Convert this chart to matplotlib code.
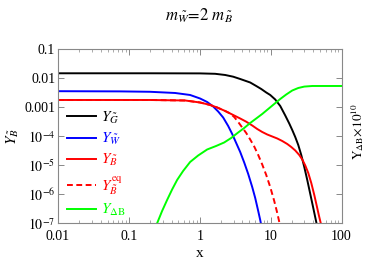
import matplotlib
matplotlib.use('Agg')
from matplotlib import pyplot as plt
from matplotlib.ticker import FixedLocator, FixedFormatter, LogLocator, NullFormatter

plt.rcParams['font.family'] = ['Liberation Serif', 'DejaVu Serif']
plt.rcParams['mathtext.fontset'] = 'stix'

# values (log-log)
x_G = [0.01, 0.199, 1.01, 1.65, 2.285, 2.964, 3.72, 5.15, 6.26, 7.37, 8.67,
       9.87, 11.61, 13.67, 16.08, 18.31, 20.19, 22.26, 24.54, 27.05, 29.83,
       32.87, 36.25, 39.96, 42.65, 45.53, 48.58]
y_G = [0.01509, 0.01509, 0.01496, 0.01449, 0.01318, 0.01151, 0.00959,
       0.00726, 0.00550, 0.00433, 0.00328, 0.00269, 0.00188, 0.00112,
       0.000527, 0.000279, 0.000166, 9.5e-5, 5.05e-5, 2.28e-5, 8.8e-6,
       3.13e-6, 1.03e-6, 3.38e-7, 1.59e-7, 7.5e-8, 3.1e-8]

x_W = [0.01, 0.0751, 0.199, 0.4494, 0.7318, 1.01, 1.272, 1.546, 1.819,
       2.140, 2.518, 2.869, 3.267, 3.72, 4.238, 4.827, 5.497, 6.060, 6.681,
       7.130, 7.609]
y_W = [0.003636, 0.003579, 0.003467, 0.003151, 0.002688, 0.002035, 0.001541,
       0.001077, 0.000724, 0.000449, 0.000229, 0.0001211, 5.92e-5, 2.90e-5,
       1.257e-5, 5.04e-6, 1.79e-6, 7.48e-7, 2.66e-7, 1.30e-7, 5.88e-8]

x_B = [0.01, 0.199, 0.622, 1.01, 1.403, 1.761, 2.285, 2.964, 3.72, 4.523,
       5.497, 6.467, 7.609, 8.954, 10.53, 12.40, 14.58, 17.16, 19.54, 22.26,
       25.35, 27.95, 30.81, 33.97, 37.45, 41.29, 44.78, 47.79, 51.01, 53.56]
y_B = [0.001806, 0.001806, 0.001736, 0.001481, 0.001214, 0.000995, 0.000753,
       0.000548, 0.000415, 0.000322, 0.000238, 0.0001803, 0.0001420,
       0.0001164, 9.93e-5, 8.47e-5, 6.94e-5, 5.47e-5, 4.31e-5, 3.26e-5,
       2.28e-5, 1.596e-5, 9.91e-6, 5.46e-6, 2.46e-6, 9.50e-7, 3.96e-7,
       1.94e-7, 1.00e-7, 5.88e-8]

x_Beq = [0.01, 0.199, 0.622, 1.01, 1.403, 1.761, 2.285, 2.688, 3.061, 3.487,
         3.971, 4.523, 5.15, 5.867, 6.681, 7.609, 8.67, 9.87, 11.24, 12.40,
         13.44, 14.12]
y_Beq = [0.001806, 0.001806, 0.001736, 0.001481, 0.001214, 0.000995,
         0.000753, 0.000618, 0.000468, 0.000314, 0.000203, 0.0001311,
         7.82e-5, 4.48e-5, 2.28e-5, 1.073e-5, 4.65e-6, 1.79e-6, 5.90e-7,
         2.27e-7, 9.47e-8, 5.43e-8]

x_dB = [0.2422, 0.2502, 0.2944, 0.3463, 0.4076, 0.4795, 0.5827, 0.7318,
        0.9493, 1.272, 1.704, 2.211, 2.777, 3.487, 4.238, 5.15, 6.26, 7.609,
        9.250, 11.24, 13.67, 16.61, 20.19, 24.54, 29.83, 38.69, 100.0]
y_dB = [8.08e-8, 1.0e-7, 2.66e-7, 6.38e-7, 1.47e-6, 3.13e-6, 6.40e-6,
        1.308e-5, 2.19e-5, 3.53e-5, 4.67e-5, 6.16e-5, 8.81e-5, 0.0001365,
        0.0001951, 0.0002904, 0.000415, 0.000594, 0.000884, 0.001315,
        0.001956, 0.002797, 0.003843, 0.004688, 0.005241, 0.005497, 0.005497]

ytick_vals = [0.1, 0.01, 0.001, 1e-4, 1e-5, 1e-6, 1e-7]
ytick_text = ['0.1', '0.01', '0.001', '$10^{-4}$', '$10^{-5}$', '$10^{-6}$',
              '$10^{-7}$']
xtick_vals = [0.01, 0.1, 1, 10, 100]
xtick_text = ['0.01', '0.1', '1', '10', '100']

fig = plt.figure(figsize=(3.71, 2.63), dpi=100)
ax = fig.add_axes([0.1563, 0.151, 0.7642, 0.6608])

lw = 1.4
ax.plot(x_G, y_G, color='black', lw=lw, label=r'$Y_{\tilde{G}}$')
ax.plot(x_W, y_W, color='blue', lw=lw, label=r'$Y_{\tilde{W}}$')
ax.plot(x_B, y_B, color='red', lw=lw, label=r'$Y_{\tilde{B}}$')
ax.plot(x_Beq, y_Beq, color='red', lw=lw, ls=(0, (3, 1.8)),
        label=r'$Y_{\tilde{B}}^{\rm eq}$')
ax.plot(x_dB, y_dB, color='#00ff00', lw=lw, label=r'$Y_{\Delta \mathrm{B}}$')

ax.set_xscale('log')
ax.set_yscale('log')
ax.set_xlim(0.01, 100)
ax.set_ylim(1e-7, 0.1)

ax.xaxis.set_major_locator(FixedLocator(xtick_vals))
ax.xaxis.set_major_formatter(FixedFormatter(xtick_text))
ax.yaxis.set_major_locator(FixedLocator(ytick_vals))
ax.yaxis.set_major_formatter(FixedFormatter(ytick_text))
ax.xaxis.set_minor_locator(LogLocator(base=10, subs=range(2, 10)))
ax.yaxis.set_minor_locator(LogLocator(base=10, subs=range(2, 10)))
ax.xaxis.set_minor_formatter(NullFormatter())
ax.yaxis.set_minor_formatter(NullFormatter())

for s in ax.spines.values():
    s.set_color('#888888')
    s.set_linewidth(0.8)
ax.tick_params(which='both', direction='in', top=True, right=True,
               color='#888888', labelsize=10)
ax.tick_params(which='major', length=4, width=0.7)
ax.tick_params(which='minor', length=2, width=0.5)
ax.tick_params(axis='x', which='major', pad=5)
ax.tick_params(axis='y', which='major', pad=2)

ax.set_xlabel('x', fontsize=11, labelpad=3)
ax.set_ylabel(r'$Y_{\tilde{B}}$', fontsize=11, labelpad=2)
ax.text(1.055, 0.53, r'$\mathrm{Y}_{\Delta\mathrm{B}}\!\times\!10^{10}$',
        transform=ax.transAxes, rotation=90, ha='center', va='center',
        fontsize=9.5)
fig.text(0.537, 0.94, r'$m_{\tilde{W}}\!=\!2\ m_{\tilde{B}}$', ha='center',
         va='center', fontsize=12)

ax.legend(loc='upper left', bbox_to_anchor=(0.01, 0.69), frameon=False,
          fontsize=11, handlelength=1.9, handletextpad=0.3,
          labelspacing=0.35, labelcolor='linecolor', borderaxespad=0)

fig.savefig('out.png', dpi=100)
